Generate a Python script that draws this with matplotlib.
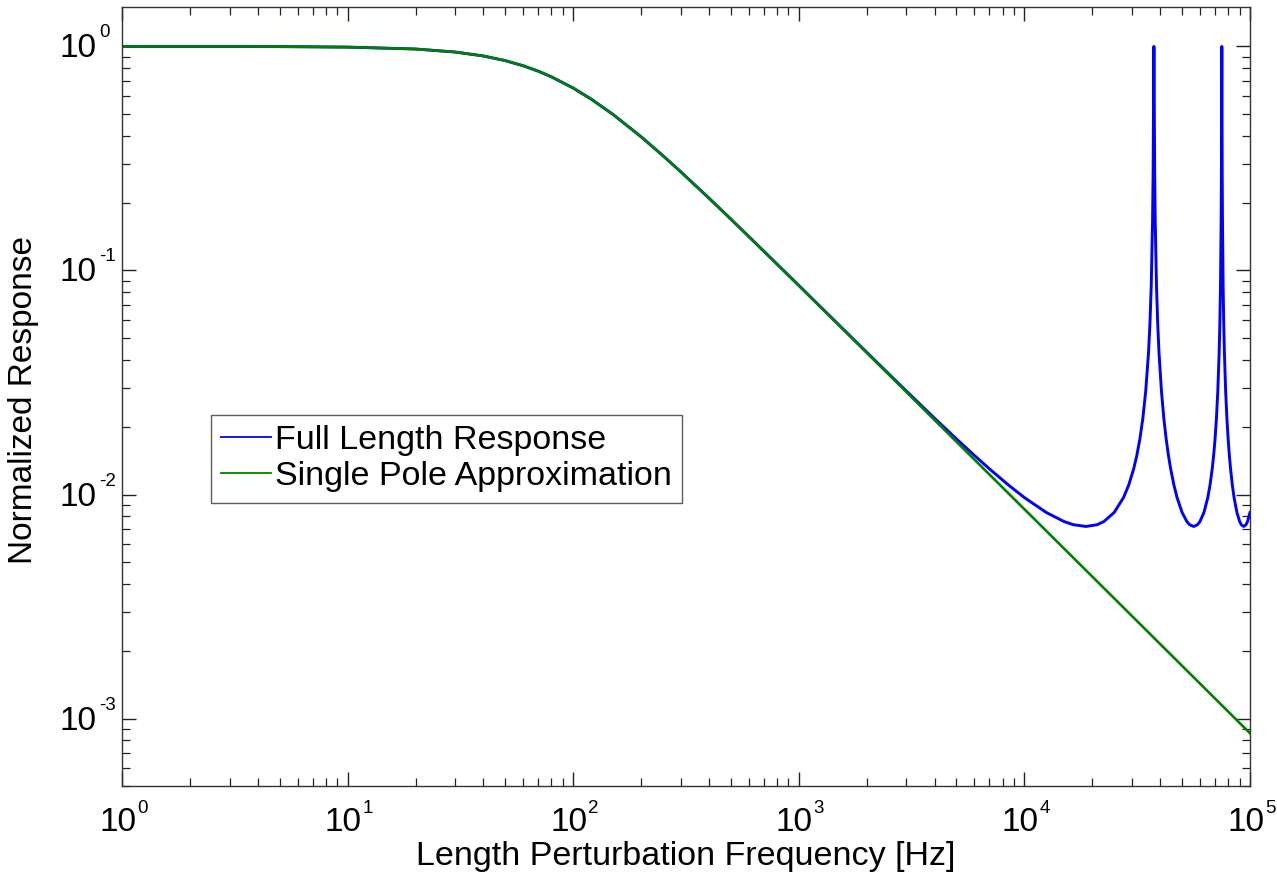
import matplotlib
matplotlib.use("Agg")
import matplotlib.pyplot as plt
from matplotlib import ticker
from matplotlib.transforms import blended_transform_factory, offset_copy

plt.rcParams['font.family'] = ['Liberation Sans', 'DejaVu Sans']

# ---- data ----
full_freq = [1, 3, 5, 10, 20, 30, 40, 50, 60, 70, 80, 100, 120, 150, 200, 250, 300,
             400, 500, 700, 1000, 1500, 2000, 3000, 4000, 5000, 6000, 7000, 8500,
             10000, 12500, 15000, 16500, 18750, 21000, 22500, 25000, 27500, 29000,
             30500, 31500, 32500, 33500, 34500, 35500, 36000, 36500, 37000, 37200,
             37400, 37500, 37600, 37800, 38000, 38500, 39000, 39500, 40500, 41500,
             42500, 43500, 44500, 46000, 47500, 50000, 52500, 54000, 56250, 58500,
             60000, 62500, 65000, 66500, 68000, 69000, 70000, 71000, 72000, 73000,
             73500, 74000, 74500, 74700, 74900, 75000, 75100, 75300, 75500, 76000,
             76500, 77000, 78000, 79000, 80000, 81000, 82000, 83500, 85000, 87500,
             90000, 91500, 93750, 96000, 97500, 100000]
full_resp = [1.0, 0.9994, 0.9983, 0.9933, 0.9740, 0.9442, 0.9067, 0.8645, 0.8201,
             0.7757, 0.7322, 0.6521, 0.5825, 0.4975, 0.3951, 0.3253, 0.2756,
             0.2102, 0.1695, 0.1219, 0.08575, 0.05737, 0.04314, 0.02895, 0.02189,
             0.01770, 0.014947, 0.013013, 0.011021, 0.009690, 0.008316, 0.007572,
             0.007331, 0.007202, 0.007331, 0.007572, 0.008316, 0.009690, 0.011021,
             0.013013, 0.014947, 0.01770, 0.02189, 0.02895, 0.04314, 0.05737,
             0.08575, 0.16949, 0.27546, 0.6519, 1.0, 0.6519, 0.27546, 0.16949,
             0.08575, 0.05737, 0.04314, 0.02895, 0.02189, 0.01770, 0.014947,
             0.013013, 0.011021, 0.009690, 0.008316, 0.007572, 0.007331, 0.007202,
             0.007331, 0.007572, 0.008316, 0.009690, 0.011021, 0.013013, 0.014947,
             0.01770, 0.02189, 0.02895, 0.04314, 0.05737, 0.08575, 0.16949, 0.27546,
             0.6519, 1.0, 0.6519, 0.27546, 0.16949, 0.08575, 0.05737, 0.04314,
             0.02895, 0.02189, 0.01770, 0.014947, 0.013013, 0.011021, 0.009690,
             0.008316, 0.007572, 0.007331, 0.007202, 0.007331, 0.007572, 0.008316]

pole_freq = [1, 3, 5, 10, 20, 30, 40, 50, 60, 70, 80, 100, 120, 150, 200, 250, 300,
             400, 500, 700, 1000, 2000, 5000, 10000, 20000, 50000, 100000]
pole_resp = [1.0, 0.9994, 0.9983, 0.9933, 0.9740, 0.9442, 0.9067, 0.8645, 0.8201,
             0.7757, 0.7322, 0.6521, 0.5825, 0.4975, 0.3951, 0.3253, 0.2756,
             0.2102, 0.1695, 0.1219, 0.0857, 0.04296, 0.01720, 0.00860, 0.00430,
             0.00172, 0.00086]

x_ticks = [1, 10, 100, 1000, 10000, 100000]
x_exps = ["0", "1", "2", "3", "4", "5"]
y_ticks = [1e-3, 1e-2, 1e-1, 1]
y_exps = ["-3", "-2", "-1", "0"]

series_labels = ["Full Length Response", "Single Pole Approximation"]
x_label = "Length Perturbation Frequency [Hz]"
y_label = "Normalized Response"

# ---- figure ----
W, H = 1277, 874
fig = plt.figure(figsize=(W / 100, H / 100), dpi=100)
ax = fig.add_axes([122 / W, 1 - 786 / H, (1250 - 122) / W, (786 - 7) / H])

ax.loglog(full_freq, full_resp, color=(0.0, 0.0, 1.0), lw=2.1, label=series_labels[0])
ax.loglog(pole_freq, pole_resp, color=(0.0, 0.5, 0.0), lw=1.9, label=series_labels[1])

ax.set_xlim(1, 1e5)
ax.set_ylim(5e-4, 1.5)

ax.xaxis.set_major_locator(ticker.FixedLocator(x_ticks))
ax.yaxis.set_major_locator(ticker.FixedLocator(y_ticks))
ax.xaxis.set_minor_locator(ticker.LogLocator(base=10, subs=range(2, 10), numticks=20))
ax.yaxis.set_minor_locator(ticker.LogLocator(base=10, subs=range(2, 10), numticks=20))
ax.xaxis.set_minor_formatter(ticker.NullFormatter())
ax.yaxis.set_minor_formatter(ticker.NullFormatter())

ax.tick_params(which='both', direction='in', top=True, right=True, colors='#222222',
               labelbottom=False, labelleft=False)
ax.tick_params(which='major', length=10, width=1)
ax.tick_params(which='minor', length=6, width=0.9)
for s in ax.spines.values():
    s.set_color('#333333')
    s.set_linewidth(1.0)

# MATLAB-style power-of-ten tick labels: "10" with a small raised exponent
xt = blended_transform_factory(ax.transData, ax.transAxes)
for t, e in zip(x_ticks, x_exps):
    ax.text(t, 0, "10", transform=offset_copy(xt, fig, x=14, y=-45, units='dots'),
            ha='right', va='baseline', fontsize=24, clip_on=False)
    ax.text(t, 0, e, transform=offset_copy(xt, fig, x=15, y=-27, units='dots'),
            ha='left', va='baseline', fontsize=13.5, clip_on=False)

yt = blended_transform_factory(ax.transAxes, ax.transData)
for t, e in zip(y_ticks, y_exps):
    ax.text(0, t, "10", transform=offset_copy(yt, fig, x=-25, y=-11, units='dots'),
            ha='right', va='baseline', fontsize=24, clip_on=False)
    ax.text(0, t, e, transform=offset_copy(yt, fig, x=-23, y=9, units='dots'),
            ha='left', va='baseline', fontsize=13.5, clip_on=False)

ax.set_xlabel(x_label, fontsize=24.5)
ax.xaxis.label.set_va('baseline')
ax.xaxis.set_label_coords((686 - 122) / 1128, -(865 - 786) / 779)
ax.set_ylabel(y_label, fontsize=24)
ax.yaxis.set_label_coords((39 - 122) / 1128, (786 - 400) / 779)

leg = ax.legend(loc='upper left', bbox_to_anchor=(211 / W, 1 - 415 / H),
                bbox_transform=fig.transFigure, fontsize=24.5, frameon=True,
                fancybox=False, shadow=False, handlelength=1.45, handletextpad=0.12,
                borderpad=0.3, labelspacing=0.15, borderaxespad=0)
leg.get_frame().set_edgecolor('#333333')
leg.get_frame().set_linewidth(1.0)
for ln in leg.get_lines():
    ln.set_linewidth(1.3)

fig.savefig("out.png", dpi=100)
